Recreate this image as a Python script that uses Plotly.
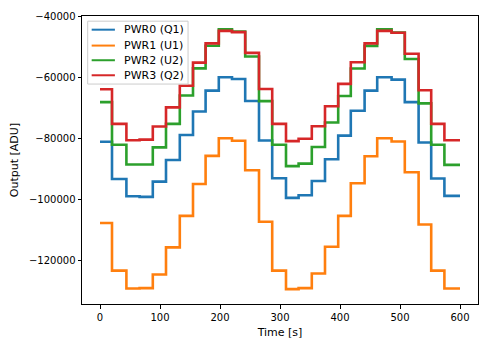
import plotly.graph_objects as go

# Step boundaries (s)
t_edges = [0, 20, 44, 66, 88, 110, 133, 155, 176, 198, 220, 242, 265, 287, 310,
           331, 353, 375, 397, 418, 441, 462, 486, 508, 531, 552, 574, 600]

pwr0_q1 = [-81000, -93250, -98900, -99100, -94100, -87000, -78800, -71070, -64200,
           -59830, -60400, -67600, -80600, -93000, -99450, -98600, -93900, -86750,
           -79000, -70800, -64200, -59830, -60600, -68000, -81250, -93100, -98800]
pwr1_u1 = [-107700, -123340, -129200, -129100, -124600, -115700, -105350, -94900,
           -85650, -79850, -80700, -90350, -107300, -123340, -129400, -129100,
           -124300, -115500, -105350, -94640, -85750, -79840, -80930, -91000,
           -108170, -123340, -129200]
pwr2_u2 = [-68000, -82000, -88500, -88500, -82850, -75150, -65800, -56900, -49450,
           -44100, -44800, -53000, -67650, -82000, -89000, -88200, -82750, -74700,
           -66000, -56930, -49500, -44100, -45100, -53800, -68400, -82000, -88600]
pwr3_q2 = [-63780, -75150, -80500, -80300, -76000, -69700, -62600, -55000, -48700,
           -44600, -45000, -51800, -63700, -75150, -80800, -80000, -75900, -69350,
           -62000, -54900, -48700, -44600, -45200, -52100, -64100, -75150, -80500]

series_names = ["PWR0 (Q1)", "PWR1 (U1)", "PWR2 (U2)", "PWR3 (Q2)"]
series_values = [pwr0_q1, pwr1_u1, pwr2_u2, pwr3_q2]
series_colors = ["#1f77b4", "#ff7f0e", "#2ca02c", "#d62728"]

x_ticks = [0, 100, 200, 300, 400, 500, 600]
y_ticks = [-120000, -100000, -80000, -60000, -40000]

font = "DejaVu Sans"
fig = go.Figure()
for name, vals, color in zip(series_names, series_values, series_colors):
    fig.add_trace(go.Scatter(
        x=t_edges, y=vals + [vals[-1]], name=name, mode="lines",
        line=dict(color=color, width=2.6, shape="hv"),
    ))

axis_common = dict(
    showgrid=False, zeroline=False, showline=True, mirror=True,
    linecolor="black", linewidth=1, ticks="outside", ticklen=3.5,
    tickcolor="black", tickwidth=1,
    tickfont=dict(family=font, size=10, color="black"),
)
fig.update_xaxes(range=[-30, 630], tickvals=x_ticks,
                 title=dict(text="Time [s]", font=dict(family=font, size=11, color="black"),
                            standoff=6),
                 **axis_common)
fig.update_yaxes(range=[-134300, -39700], tickvals=y_ticks,
                 ticktext=[f"\u2212{abs(v)}" for v in y_ticks],
                 title=dict(text="Output [ADU]", font=dict(family=font, size=11, color="black"),
                            standoff=8),
                 **axis_common)

# Legend drawn as a matplotlib-style box (paper coordinates)
shapes = [dict(type="rect", xref="paper", yref="paper", x0=0.0144, x1=0.2678,
               y0=0.7637, y1=0.982, fillcolor="rgba(255,255,255,0.8)",
               line=dict(color="#cccccc", width=1), layer="above")]
annotations = []
row_y = [0.9525, 0.8973, 0.8464, 0.7942]
for name, color, ry in zip(series_names, series_colors, row_y):
    shapes.append(dict(type="line", xref="paper", yref="paper", x0=0.0244, x1=0.0831,
                       y0=ry, y1=ry, line=dict(color=color, width=2), layer="above"))
    annotations.append(dict(xref="paper", yref="paper", x=0.102, y=ry, text=name,
                            showarrow=False, xanchor="left", yanchor="middle",
                            font=dict(family=font, size=11, color="black")))

fig.update_layout(
    width=490, height=347,
    margin=dict(l=82, r=11, t=12, b=40),
    paper_bgcolor="white", plot_bgcolor="white",
    font=dict(family=font, size=10, color="black"),
    showlegend=False,
    shapes=shapes, annotations=annotations,
)

fig.write_html("out.html")
